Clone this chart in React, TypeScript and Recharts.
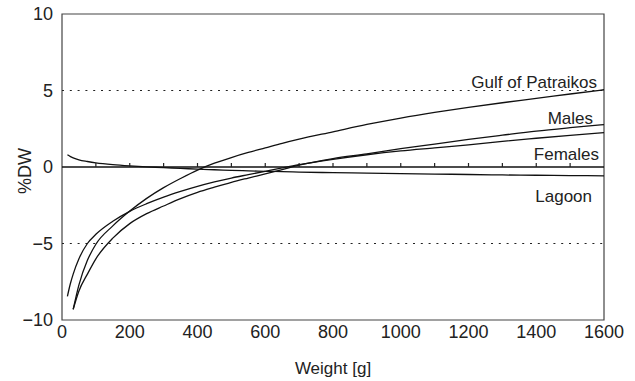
import React from 'react';
import { ComposedChart, Line, Scatter, XAxis, YAxis, ReferenceLine, ReferenceArea, ReferenceDot, Label } from 'recharts';

const weights = [16, 25, 33, 50, 75, 100, 150, 200, 250, 300, 350, 400, 450, 500, 550, 600, 650, 700, 800, 900, 1000, 1100, 1200, 1300, 1400, 1500, 1600];
const gulf = [null, null, -9.3, -7.7, -6.1, -5.05, -3.85, -2.88, -2.05, -1.35, -0.75, -0.2, 0.25, 0.62, 0.95, 1.25, 1.55, 1.82, 2.3, 2.78, 3.2, 3.57, 3.9, 4.2, 4.48, 4.77, 5.05];
const males = [null, null, -9.3, -8.1, -7.0, -6.0, -4.65, -3.7, -3.05, -2.55, -2.07, -1.66, -1.32, -1.0, -0.72, -0.45, -0.17, 0.12, 0.55, 0.86, 1.2, 1.5, 1.8, 2.08, 2.35, 2.57, 2.77];
const females = [-8.45, -7.6, -7.0, -6.0, -5.0, -4.4, -3.55, -2.9, -2.4, -1.97, -1.6, -1.27, -0.98, -0.72, -0.5, -0.28, -0.06, 0.15, 0.5, 0.8, 1.05, 1.25, 1.45, 1.68, 1.88, 2.07, 2.25];
const lagoon = [0.8, 0.68, 0.6, 0.47, 0.36, 0.27, 0.15, 0.07, 0.01, -0.04, -0.09, -0.14, -0.18, -0.22, -0.25, -0.28, -0.3, -0.33, -0.37, -0.4, -0.43, -0.46, -0.49, -0.52, -0.54, -0.56, -0.58];

const xTicks = [0, 200, 400, 600, 800, 1000, 1200, 1400, 1600];
const yTicks = [-10, -5, 0, 5, 10];
const zeroTicks = [100, 200, 300, 400, 500, 600, 700, 800, 900, 1000, 1100, 1200, 1300, 1400, 1500];

// curve names at the right end, y = baseline in data units
const curveLabels = [
  { text: 'Gulf of Patraikos', y: 5.18, dx: -7 },
  { text: 'Males', y: 2.83, dx: -11 },
  { text: 'Females', y: 0.48, dx: -5 },
  { text: 'Lagoon', y: -2.27, dx: -12 },
];

const data = weights.map((w, i) => ({
  w,
  gulf: gulf[i],
  males: males[i],
  females: females[i],
  lagoon: lagoon[i],
}));
const tickData = zeroTicks.map((t) => ({ w: t, z: 0 }));

const font = '"Liberation Sans", Arial, sans-serif';
const textColor = '#222';
const fmt = (v: number) => String(v).replace('-', '\u2212');

// small upward tick on the zero line
const ZeroTick = (p: any) => (
  <path d={`M${p.cx},${p.cy}V${p.cy - 4}`} stroke="#222" strokeWidth={1.2} fill="none" />
);

export default function App() {
  return (
    <div style={{ position: 'absolute', left: 0, top: 0, background: '#fff', fontFamily: font }}>
      <ComposedChart width={635} height={381} data={data} margin={{ top: 14, right: 31, bottom: 11, left: 0 }}>
        <XAxis
          dataKey="w"
          type="number"
          domain={[0, 1600]}
          ticks={xTicks}
          axisLine={false}
          tickLine={false}
          tickSize={0}
          tickMargin={5}
          height={50}
          tick={{ fill: textColor, fontSize: 18, fontFamily: font }}
        >
          <Label value="Weight [g]" position="insideBottom" offset={-4} fill={textColor} fontSize={17} fontFamily={font} />
        </XAxis>
        <YAxis
          type="number"
          domain={[-10, 10]}
          ticks={yTicks}
          width={62}
          axisLine={false}
          tickLine={false}
          tickSize={0}
          tickMargin={9}
          tickFormatter={fmt}
          tick={{ fill: textColor, fontSize: 18, fontFamily: font }}
        >
          <Label
            content={(p: any) => (
              <text
                transform={`translate(${(p.viewBox?.x ?? 0) + 25},${(p.viewBox?.y ?? 14) + (p.viewBox?.height ?? 306) / 2 + 4}) rotate(-90)`}
                textAnchor="middle"
                dominantBaseline="central"
                fill={textColor}
                fontSize={18}
                fontFamily={font}
              >
                %DW
              </text>
            )}
          />
        </YAxis>
        <ReferenceArea x1={0} x2={1600} y1={-10} y2={10} fill="none" stroke="#444" strokeWidth={1.2} ifOverflow="visible" />
        <ReferenceLine y={5} stroke="#222" strokeDasharray="2 5.8" strokeWidth={1.2} />
        <ReferenceLine y={-5} stroke="#222" strokeDasharray="2 5.8" strokeWidth={1.2} />
        <ReferenceLine y={0} stroke="#111" strokeWidth={1.3} />
        <Scatter data={tickData} dataKey="z" shape={ZeroTick} isAnimationActive={false} />
        <Line dataKey="gulf" type="monotone" stroke="#111" strokeWidth={1.3} dot={false} isAnimationActive={false} />
        <Line dataKey="males" type="monotone" stroke="#111" strokeWidth={1.3} dot={false} isAnimationActive={false} />
        <Line dataKey="females" type="monotone" stroke="#111" strokeWidth={1.3} dot={false} isAnimationActive={false} />
        <Line dataKey="lagoon" type="monotone" stroke="#111" strokeWidth={1.3} dot={false} isAnimationActive={false} />
        {curveLabels.map((c) => (
          <ReferenceDot
            key={c.text}
            x={1600}
            y={c.y}
            ifOverflow="visible"
            shape={(p: any) => (
              <text x={p.cx + c.dx} y={p.cy} textAnchor="end" fill={textColor} fontSize={17} fontFamily={font}>
                {c.text}
              </text>
            )}
          />
        ))}
      </ComposedChart>
    </div>
  );
}
